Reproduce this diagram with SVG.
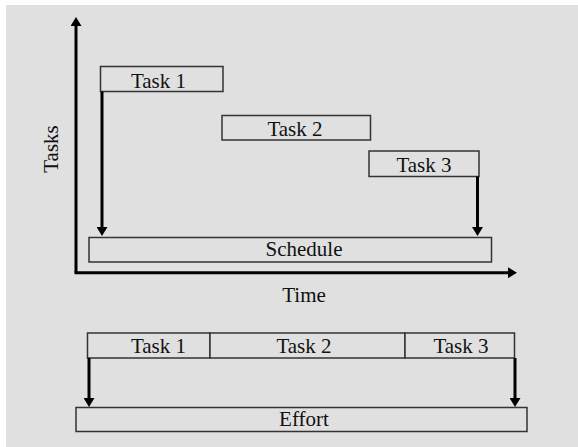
<svg xmlns="http://www.w3.org/2000/svg" width="578" height="447" viewBox="0 0 578 447">
<style>
.box{fill:#e0e0e0;stroke:#333;stroke-width:1.5}
.lbl{font-family:'Liberation Serif','DejaVu Serif','Times New Roman',serif;font-size:21px;fill:#111;text-anchor:middle}
.arr{stroke:#000;stroke-width:3;fill:none;marker-end:url(#ah)}
</style>
<defs>
<marker id="ah" viewBox="0 0 9 11" refX="4" refY="5.5" markerWidth="9" markerHeight="11" markerUnits="userSpaceOnUse" orient="auto">
<path d="M0,0 L9,5.5 L0,11 z" fill="#000"/>
</marker>
</defs>
<rect x="0" y="0" width="578" height="447" fill="#fff"/>
<rect x="6" y="5" width="572" height="442" fill="#e0e0e0"/>
<g id="axes">
<path class="arr" d="M76,273 V22"/>
<path class="arr" d="M74.5,272.7 H512"/>
<text class="lbl" transform="translate(57.5,149) rotate(-90)">Tasks</text>
<text class="lbl" x="304" y="302">Time</text>
</g>
<g id="task1"><rect class="box" x="100.5" y="66.5" width="122.5" height="25"/><text class="lbl" x="158.5" y="87.5">Task 1</text></g>
<g id="task2"><rect class="box" x="222" y="115.5" width="148.5" height="24.5"/><text class="lbl" x="295" y="136">Task 2</text></g>
<g id="task3"><rect class="box" x="369" y="151" width="110" height="25.5"/><text class="lbl" x="424" y="171.5">Task 3</text></g>
<g id="schedule"><rect class="box" x="89" y="237.5" width="402.5" height="24.5"/><text class="lbl" x="304" y="256">Schedule</text></g>
<g id="btask1"><rect class="box" x="87.5" y="333" width="122.5" height="25"/><text class="lbl" x="158.5" y="353">Task 1</text></g>
<g id="btask2"><rect class="box" x="210" y="333" width="195" height="25"/><text class="lbl" x="304" y="353">Task 2</text></g>
<g id="btask3"><rect class="box" x="405" y="333" width="109.5" height="25"/><text class="lbl" x="461" y="353">Task 3</text></g>
<g id="effort"><rect class="box" x="76" y="407.5" width="451" height="24"/><text class="lbl" x="304" y="425.5">Effort</text></g>
<g id="connectors">
<path class="arr" d="M102,91.5 V231"/>
<path class="arr" d="M477.5,176.5 V231"/>
<path class="arr" d="M89,358 V402"/>
<path class="arr" d="M515,358 V402"/>
</g>
</svg>
